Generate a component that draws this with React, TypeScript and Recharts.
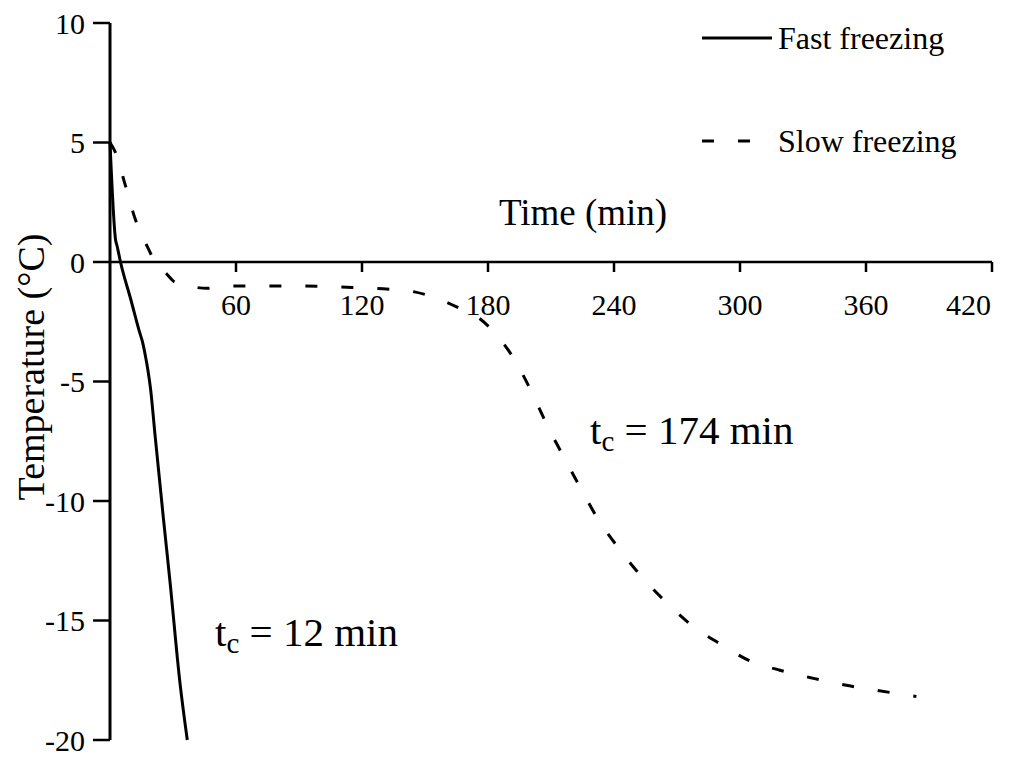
import { LineChart, Line, XAxis, YAxis, ReferenceLine, Legend } from 'recharts'

// fast freezing curve (min, °C)
const fastTime = [0, 2.7, 3.3, 5, 10, 14.3, 15.5, 16.8, 18, 19.3, 21.4, 25.4, 28.6, 33.3, 36.8]
const fastTemp = [5, 0.9, 0.7, 0, -1.6, -3, -3.35, -3.9, -4.5, -5.3, -7.2, -10.7, -13.4, -17.6, -20]

// slow freezing curve (min, °C)
const slowTime = [0, 3, 7, 12, 18, 21.5, 27, 31, 40, 46, 55, 70, 90, 110, 130, 145, 155, 168, 175, 182, 192, 200, 208, 216, 224, 232, 242, 253, 265, 277, 291, 305, 319, 335, 350, 365, 384]
const slowTemp = [5, 4.5, 3.3, 1.8, 0.6, 0, -0.5, -0.85, -1.05, -1.1, -1.0, -1.0, -1.0, -1.05, -1.12, -1.25, -1.5, -2.0, -2.3, -2.85, -4.0, -5.3, -6.8, -8.15, -9.45, -10.7, -11.95, -13.15, -14.25, -15.2, -16.0, -16.7, -17.08, -17.42, -17.7, -17.92, -18.18]

const xTicks = [60, 120, 180, 240, 300, 360, 420]
const yTicks = [-20, -15, -10, -5, 0, 5, 10]

const fastData = fastTime.map((t, i) => ({ time: t, temp: fastTemp[i] }))
const slowData = slowTime.map((t, i) => ({ time: t, temp: slowTemp[i] }))

const SERIF = '"Liberation Serif", "Times New Roman", Times, serif'
const W = 1022
const H = 757
const PLOT_TOP = 23
const PLOT_BOTTOM = 740
const Y_MIN = -20
const Y_MAX = 10
// x axis crosses at 0 °C
const ZERO_Y = PLOT_TOP + (PLOT_BOTTOM - PLOT_TOP) * (Y_MAX - 0) / (Y_MAX - Y_MIN)

const DASH = '12 24'

const XTick = ({ x, payload }: any) => {
  const last = payload.value === xTicks[xTicks.length - 1]
  return (
    <g>
      <line x1={x} x2={x} y1={ZERO_Y} y2={ZERO_Y + 10} stroke="#000" strokeWidth={2.5} />
      <text x={last ? x - 1 : x} y={ZERO_Y + 53} textAnchor={last ? 'end' : 'middle'} fontSize={30} fontFamily={SERIF} fill="#000">{payload.value}</text>
    </g>
  )
}

const renderLegend = ({ payload }: any) => (
  <div style={{ fontFamily: SERIF, fontSize: 32, color: '#000' }}>
    {(payload || []).map((p: any, i: number) => (
      <div key={p.value} style={{ display: 'flex', alignItems: 'center', height: 50, marginTop: i === 0 ? 0 : 53 }}>
        <svg width={76} height={10}>
          <line x1={0} x2={i === 0 ? 70 : 48} y1={5} y2={5} stroke="#000" strokeWidth={3} strokeDasharray={p.payload?.strokeDasharray} />
        </svg>
        <span>{p.value}</span>
      </div>
    ))}
  </div>
)

export default function App() {
  return (
    <div style={{ position: 'absolute', left: 0, top: 0, width: W, height: H, background: '#fff' }}>
      <LineChart width={W} height={H} data={slowData} margin={{ top: PLOT_TOP, right: 30, bottom: 0, left: 0 }}>
        <XAxis dataKey="time" type="number" domain={[0, 420]} ticks={xTicks} axisLine={false} tickLine={false} tick={<XTick />} height={H - PLOT_BOTTOM} interval={0} />
        <YAxis type="number" domain={[Y_MIN, Y_MAX]} ticks={yTicks} width={110} interval={0}
          axisLine={{ stroke: '#000', strokeWidth: 3 }} tickLine={{ stroke: '#000', strokeWidth: 2.5 }} tickSize={17} tickMargin={8}
          tick={{ fontSize: 30, fontFamily: SERIF, fill: '#000' }} />
        <ReferenceLine y={0} stroke="#000" strokeWidth={2.5} />
        <Legend layout="vertical" align="center" verticalAlign="middle" content={renderLegend}
          wrapperStyle={{ left: 702, top: 13, width: 310, height: 160 }} />
        {/* Fast freezing — solid */}
        <Line data={fastData} dataKey="temp" name="Fast freezing" type="monotone" stroke="#000" strokeWidth={3} dot={false} activeDot={false} isAnimationActive={false} />
        {/* Slow freezing — dashed */}
        <Line data={slowData} dataKey="temp" name="Slow freezing" type="monotone" stroke="#000" strokeWidth={3} strokeDasharray={DASH} dot={false} activeDot={false} isAnimationActive={false} />
      </LineChart>
      <svg width={W} height={H} style={{ position: 'absolute', left: 0, top: 0, pointerEvents: 'none' }} fontFamily={SERIF} fill="#000">
        <text x={583} y={225} textAnchor="middle" fontSize={37}>Time (min)</text>
        <text transform="translate(44,367) rotate(-90)" textAnchor="middle" fontSize={38}>Temperature (°C)</text>
        <text x={590} y={444} fontSize={41}>t<tspan dy={7} fontSize={29}>c</tspan><tspan dy={-7}> = 174 min</tspan></text>
        <text x={215} y={646} fontSize={41}>t<tspan dy={7} fontSize={29}>c</tspan><tspan dy={-7}> = 12 min</tspan></text>
      </svg>
    </div>
  )
}
